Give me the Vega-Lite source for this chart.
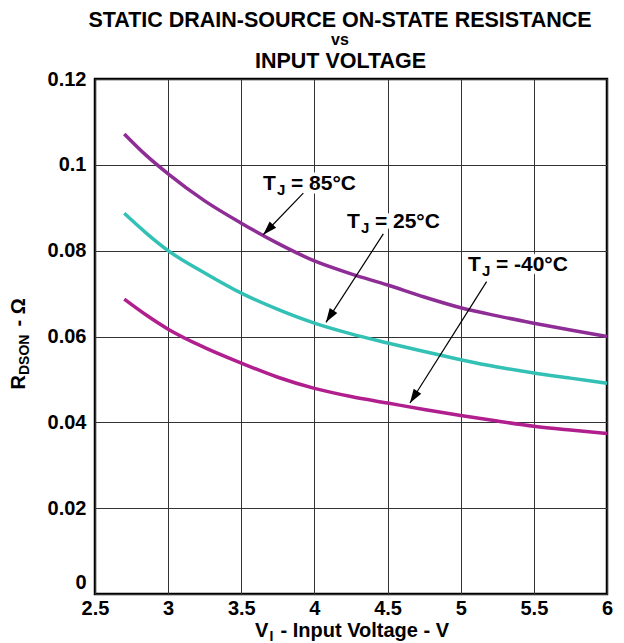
{
  "$schema": "https://vega.github.io/schema/vega-lite/v6.json",
  "width": 512,
  "height": 515,
  "autosize": {"type": "none"},
  "padding": {"left": 95, "top": 79, "right": 17, "bottom": 49},
  "background": "white",
  "config": {
    "view": {"stroke": "black", "strokeWidth": 2.5},
    "axis": {"labelFont": "Liberation Sans", "titleFont": "Liberation Sans"},
    "text": {"font": "Liberation Sans"}
  },
  "title": {
    "text": "STATIC DRAIN-SOURCE ON-STATE RESISTANCE",
    "subtitle": "vs",
    "anchor": "middle",
    "dx": -11,
    "font": "Liberation Sans",
    "fontSize": 21.5,
    "fontWeight": "bold",
    "color": "black",
    "subtitleFont": "Liberation Sans",
    "subtitleFontSize": 16,
    "subtitleFontWeight": "bold",
    "subtitleColor": "black",
    "subtitlePadding": 1,
    "offset": 2
  },
  "datasets": {
    "curves": [
      {"tj": "85", "v": 2.7, "r": 0.1072}, {"tj": "85", "v": 2.85, "r": 0.1022}, {"tj": "85", "v": 3.0, "r": 0.0979},
      {"tj": "85", "v": 3.25, "r": 0.0916}, {"tj": "85", "v": 3.5, "r": 0.0864}, {"tj": "85", "v": 3.75, "r": 0.0817},
      {"tj": "85", "v": 4.0, "r": 0.0776}, {"tj": "85", "v": 4.25, "r": 0.0746}, {"tj": "85", "v": 4.5, "r": 0.0720},
      {"tj": "85", "v": 4.75, "r": 0.0692}, {"tj": "85", "v": 5.0, "r": 0.0667}, {"tj": "85", "v": 5.25, "r": 0.0648},
      {"tj": "85", "v": 5.5, "r": 0.0631}, {"tj": "85", "v": 5.75, "r": 0.0615}, {"tj": "85", "v": 6.0, "r": 0.0600},
      {"tj": "25", "v": 2.7, "r": 0.0887}, {"tj": "25", "v": 2.85, "r": 0.0841}, {"tj": "25", "v": 3.0, "r": 0.0800},
      {"tj": "25", "v": 3.25, "r": 0.0748}, {"tj": "25", "v": 3.5, "r": 0.0701}, {"tj": "25", "v": 3.75, "r": 0.0663},
      {"tj": "25", "v": 4.0, "r": 0.0631}, {"tj": "25", "v": 4.25, "r": 0.0606}, {"tj": "25", "v": 4.5, "r": 0.0585},
      {"tj": "25", "v": 4.75, "r": 0.0565}, {"tj": "25", "v": 5.0, "r": 0.0546}, {"tj": "25", "v": 5.25, "r": 0.0529},
      {"tj": "25", "v": 5.5, "r": 0.0515}, {"tj": "25", "v": 5.75, "r": 0.0503}, {"tj": "25", "v": 6.0, "r": 0.0491},
      {"tj": "-40", "v": 2.7, "r": 0.0687}, {"tj": "-40", "v": 2.85, "r": 0.0650}, {"tj": "-40", "v": 3.0, "r": 0.0617},
      {"tj": "-40", "v": 3.25, "r": 0.0574}, {"tj": "-40", "v": 3.5, "r": 0.0538}, {"tj": "-40", "v": 3.75, "r": 0.0505},
      {"tj": "-40", "v": 4.0, "r": 0.0479}, {"tj": "-40", "v": 4.25, "r": 0.0460}, {"tj": "-40", "v": 4.5, "r": 0.0445},
      {"tj": "-40", "v": 4.75, "r": 0.0430}, {"tj": "-40", "v": 5.0, "r": 0.0416}, {"tj": "-40", "v": 5.25, "r": 0.0403},
      {"tj": "-40", "v": 5.5, "r": 0.0391}, {"tj": "-40", "v": 5.75, "r": 0.0382}, {"tj": "-40", "v": 6.0, "r": 0.0374}
    ],
    "arrows": [
      {"tj": "85", "x1": 3.924, "y1": 0.0934, "x2": 3.650, "y2": 0.0837},
      {"tj": "25", "x1": 4.471, "y1": 0.0839, "x2": 4.079, "y2": 0.0633},
      {"tj": "-40", "x1": 5.177, "y1": 0.0728, "x2": 4.653, "y2": 0.0445}
    ],
    "labels": [
      {"tj": "85", "lx": 3.648, "ly": 0.0942, "val": "= 85°C"},
      {"tj": "25", "lx": 4.222, "ly": 0.0853, "val": "= 25°C"},
      {"tj": "-40", "lx": 5.049, "ly": 0.0753, "val": "= -40°C"}
    ]
  },
  "resolve": {"axis": {"x": "independent", "y": "independent"}},
  "layer": [
    {
      "data": {"name": "curves"},
      "mark": {"type": "line", "strokeWidth": 3.5, "interpolate": "monotone"},
      "encoding": {
        "x": {
          "field": "v", "type": "quantitative",
          "scale": {"domain": [2.5, 6], "nice": false, "zero": false},
          "axis": {
            "orient": "bottom",
            "values": [2.5, 3, 3.5, 4, 4.5, 5, 5.5, 6], "format": ".1~f",
            "grid": true, "gridColor": "#333", "gridWidth": 1,
            "ticks": false, "domain": false,
            "labelFontSize": 20, "labelFontWeight": "bold", "labelColor": "black",
            "labelPadding": 4, "labelFlush": false, "labelOverlap": false,
            "title": null
          }
        },
        "y": {
          "field": "r", "type": "quantitative",
          "scale": {"domain": [0, 0.12], "nice": false, "zero": true},
          "axis": {
            "orient": "left",
            "values": [0, 0.02, 0.04, 0.06, 0.08, 0.1, 0.12], "format": ".2~f",
            "grid": true, "gridColor": "#333", "gridWidth": 1,
            "ticks": false, "domain": false,
            "labelFontSize": 20, "labelFontWeight": "bold", "labelColor": "black",
            "labelPadding": 9, "labelFlush": false, "labelOverlap": false,
            "labelOffset": {"condition": {"test": "datum.value == 0", "value": -12}, "value": 0},
            "title": null
          }
        },
        "color": {
          "field": "tj", "type": "nominal",
          "scale": {"domain": ["85", "25", "-40"], "range": ["#8E2D96", "#33C1B6", "#B11F8F"]},
          "legend": null
        }
      }
    },
    {
      "data": {"name": "labels"},
      "mark": {"type": "text", "text": "T", "align": "left", "baseline": "alphabetic", "fontSize": 21, "fontWeight": "bold", "color": "white", "stroke": "white", "strokeWidth": 7},
      "encoding": {"x": {"field": "lx", "type": "quantitative", "axis": null}, "y": {"field": "ly", "type": "quantitative", "axis": null}}
    },
    {
      "data": {"name": "labels"},
      "mark": {"type": "text", "align": "left", "baseline": "alphabetic", "dx": 28, "fontSize": 21, "fontWeight": "bold", "color": "white", "stroke": "white", "strokeWidth": 7},
      "encoding": {"x": {"field": "lx", "type": "quantitative", "axis": null}, "y": {"field": "ly", "type": "quantitative", "axis": null}, "text": {"field": "val"}}
    },
    {
      "data": {"name": "arrows"},
      "mark": {"type": "rule", "color": "black", "strokeWidth": 1.2},
      "encoding": {
        "x": {"field": "x1", "type": "quantitative", "axis": {"orient": "top", "labels": false, "ticks": false, "domain": false, "grid": false, "title": "INPUT VOLTAGE", "titleFontSize": 21.5, "titleFontWeight": "bold", "titleColor": "black", "titlePadding": 7, "titleX": 245}},
        "y": {"field": "y1", "type": "quantitative", "axis": null},
        "x2": {"field": "x2"},
        "y2": {"field": "y2"}
      }
    },
    {
      "data": {"name": "arrows"},
      "transform": [{"filter": "datum.tj == '85'"}],
      "mark": {"type": "point", "shape": "M0,0L-0.9,2.8L0.9,2.8Z", "filled": true, "color": "black", "opacity": 1, "size": 100, "angle": 223.6},
      "encoding": {"x": {"field": "x2", "type": "quantitative", "axis": null}, "y": {"field": "y2", "type": "quantitative", "axis": null}}
    },
    {
      "data": {"name": "arrows"},
      "transform": [{"filter": "datum.tj != '85'"}],
      "mark": {"type": "point", "shape": "M0,0L-0.9,2.8L0.9,2.8Z", "filled": true, "color": "black", "opacity": 1, "size": 100, "angle": 212.5},
      "encoding": {"x": {"field": "x2", "type": "quantitative", "axis": null}, "y": {"field": "y2", "type": "quantitative", "axis": null}}
    },
    {
      "data": {"name": "labels"},
      "mark": {"type": "text", "text": "T", "align": "left", "baseline": "alphabetic", "fontSize": 21, "fontWeight": "bold", "color": "black"},
      "encoding": {"x": {"field": "lx", "type": "quantitative", "axis": null}, "y": {"field": "ly", "type": "quantitative", "axis": null}}
    },
    {
      "data": {"name": "labels"},
      "mark": {"type": "text", "text": "J", "align": "left", "baseline": "alphabetic", "dx": 14, "dy": 5, "fontSize": 15, "fontWeight": "bold", "color": "black"},
      "encoding": {"x": {"field": "lx", "type": "quantitative", "axis": null}, "y": {"field": "ly", "type": "quantitative", "axis": null}}
    },
    {
      "data": {"name": "labels"},
      "mark": {"type": "text", "align": "left", "baseline": "alphabetic", "dx": 28, "fontSize": 21, "fontWeight": "bold", "color": "black"},
      "encoding": {"x": {"field": "lx", "type": "quantitative", "axis": null}, "y": {"field": "ly", "type": "quantitative", "axis": null}, "text": {"field": "val"}}
    },
    {
      "data": {"values": [{}]},
      "mark": {"type": "text", "text": "V", "align": "left", "baseline": "alphabetic", "dx": -96, "dy": 43, "fontSize": 20, "fontWeight": "bold", "color": "black"},
      "encoding": {"x": {"datum": 4.25, "type": "quantitative", "axis": null}, "y": {"datum": 0, "type": "quantitative", "axis": null}}
    },
    {
      "data": {"values": [{}]},
      "mark": {"type": "text", "text": "I", "align": "left", "baseline": "alphabetic", "dx": -81.5, "dy": 47, "fontSize": 14, "fontWeight": "bold", "color": "black"},
      "encoding": {"x": {"datum": 4.25, "type": "quantitative", "axis": null}, "y": {"datum": 0, "type": "quantitative", "axis": null}}
    },
    {
      "data": {"values": [{}]},
      "mark": {"type": "text", "text": "- Input Voltage - V", "align": "left", "baseline": "alphabetic", "dx": -70.5, "dy": 43, "fontSize": 20, "fontWeight": "bold", "color": "black"},
      "encoding": {"x": {"datum": 4.25, "type": "quantitative", "axis": null}, "y": {"datum": 0, "type": "quantitative", "axis": null}}
    },
    {
      "data": {"values": [{}]},
      "mark": {"type": "text", "text": "R", "angle": 270, "align": "left", "baseline": "alphabetic", "dx": -53, "dy": -70, "fontSize": 20, "fontWeight": "bold", "color": "black"},
      "encoding": {"x": {"datum": 2.5, "type": "quantitative", "axis": null}, "y": {"datum": 0.06, "type": "quantitative", "axis": null}}
    },
    {
      "data": {"values": [{}]},
      "mark": {"type": "text", "text": "DSON", "angle": 270, "align": "left", "baseline": "alphabetic", "dx": -38.5, "dy": -66, "fontSize": 14, "fontWeight": "bold", "color": "black"},
      "encoding": {"x": {"datum": 2.5, "type": "quantitative", "axis": null}, "y": {"datum": 0.06, "type": "quantitative", "axis": null}}
    },
    {
      "data": {"values": [{}]},
      "mark": {"type": "text", "text": "- Ω", "angle": 270, "align": "left", "baseline": "alphabetic", "dx": 10, "dy": -70, "fontSize": 20, "fontWeight": "bold", "color": "black"},
      "encoding": {"x": {"datum": 2.5, "type": "quantitative", "axis": null}, "y": {"datum": 0.06, "type": "quantitative", "axis": null}}
    }
  ]
}
